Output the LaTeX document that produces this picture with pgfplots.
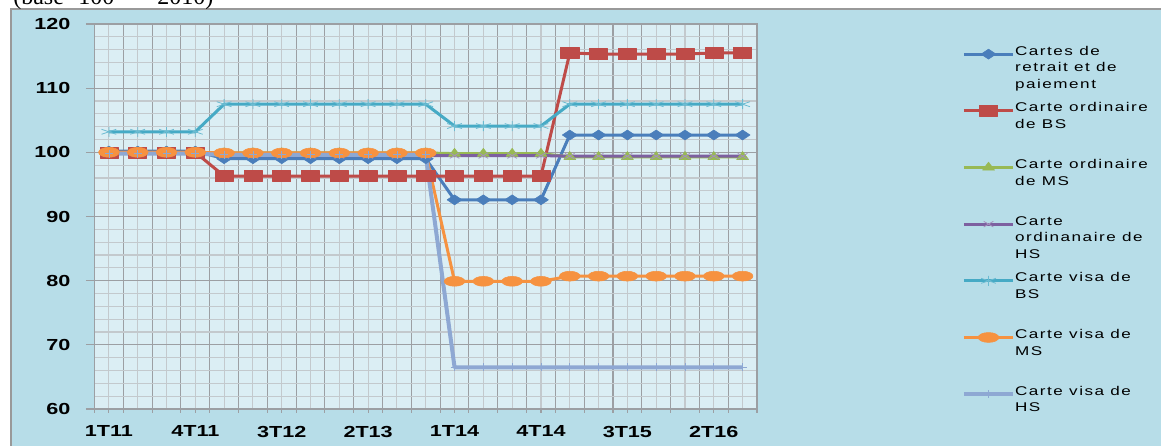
\documentclass[border=0pt]{standalone}
\usepackage{pgfplots}
\usepackage{pgfplotstable}
\pgfplotsset{compat=1.18}
\usepackage{fontspec}
\setmainfont{Liberation Sans}
\newfontfamily\tickfont[FakeStretch=1.35]{Liberation Sans Bold}
\newfontfamily\legfont[FakeStretch=1.35,LetterSpace=12]{Liberation Sans}
\newfontfamily\titlefont{Liberation Serif}

\definecolor{chartbg}{HTML}{B7DDE8}
\definecolor{plotbg}{HTML}{DBEEF4}
\definecolor{gmaj}{HTML}{9C9FA3}
\definecolor{gmin}{HTML}{C3C9CD}
\definecolor{sblue}{HTML}{4A7EBB}
\definecolor{sred}{HTML}{BE4B48}
\definecolor{sgreen}{HTML}{98B954}
\definecolor{spurple}{HTML}{7D60A0}
\definecolor{steal}{HTML}{46AAC5}
\definecolor{sorange}{HTML}{F69240}
\definecolor{slav}{HTML}{8EA8D3}

% quarters 1T11 ... 3T16 as 0..22
\pgfplotstableread{
q  ret   obs   oms   ohs   vbs   vms   vhs
0  100.2 100.0 100.0 100.0 103.2 100.0 99.8
1  100.2 100.0 100.0 100.0 103.2 100.0 99.8
2  100.2 100.0 100.0 100.0 103.2 100.0 99.8
3  100.2 100.0 100.0 100.0 103.2 100.0 99.8
4  99.0  96.3  99.9  99.5  107.5 99.9  99.6
5  99.0  96.3  99.9  99.5  107.5 99.9  99.6
6  99.0  96.3  99.9  99.5  107.5 99.9  99.6
7  99.0  96.3  99.9  99.5  107.5 99.9  99.6
8  99.0  96.3  99.9  99.5  107.5 99.9  99.6
9  99.0  96.3  99.9  99.5  107.5 99.9  99.6
10 99.0  96.3  99.9  99.5  107.5 99.9  99.6
11 99.0  96.3  99.9  99.5  107.5 99.9  99.6
12 92.6  96.3  99.8  99.5  104.1 79.9  66.5
13 92.6  96.3  99.8  99.5  104.1 79.9  66.5
14 92.6  96.3  99.8  99.5  104.1 79.9  66.5
15 92.6  96.3  99.8  99.5  104.1 79.9  66.5
16 102.7 115.5 99.3  99.4  107.5 80.7  66.5
17 102.7 115.3 99.3  99.4  107.5 80.7  66.5
18 102.7 115.3 99.3  99.4  107.5 80.7  66.5
19 102.7 115.3 99.3  99.4  107.5 80.7  66.5
20 102.7 115.3 99.3  99.4  107.5 80.7  66.5
21 102.7 115.5 99.3  99.4  107.5 80.7  66.5
22 102.7 115.5 99.3  99.4  107.5 80.7  66.5
}\data

\newcommand{\legtxt}[1]{\raisebox{0pt}[22pt][20.5pt]{\parbox[t]{112pt}{\legfont\fontsize{9.5pt}{12.5pt}\selectfont #1}}}

\begin{document}
\begin{tikzpicture}
\useasboundingbox (0,0) rectangle (870.75pt,334.5pt);
\clip (0,0) rectangle (870.75pt,334.5pt);
\fill[white] (0,0) rectangle (870.75pt,334.5pt);
\filldraw[fill=chartbg, draw=gray!80, line width=1pt] (8.25pt,-10pt) rectangle (890pt,327.75pt);
\begin{scope}[every node/.style={anchor=base west, inner sep=0pt, font=\titlefont\fontsize{18pt}{20pt}\selectfont}]
\node at (9.75pt,331pt) {(base};
\node at (58.5pt,331pt) {100};
\node at (97.5pt,331pt) {=};
\node at (117.75pt,331pt) {2010)};
\end{scope}
\begin{axis}[
    at={(70.875pt,27.75pt)}, anchor=south west,
    scale only axis, width=496.875pt, height=288.75pt,
    xmin=-0.5, xmax=22.5, ymin=60, ymax=120,
    axis background/.style={fill=plotbg},
    axis line style={gmaj, line width=0.8pt},
    xtick={-0.5,0.5,...,22.5}, xticklabels={},
    minor xtick={0,...,22},
    ytick={60,70,...,120}, minor y tick num=4,
    grid=both,
    major grid style={gmaj, line width=0.8pt},
    minor grid style={gmin, line width=0.8pt},
    tick align=outside, xtick pos=bottom, ytick pos=left,
    major tick length=6.4pt, minor tick length=0pt,
    tick style={gmaj, line width=0.8pt},
    xtick style={/pgfplots/major tick length=3pt},
    extra x ticks={0,3,...,21},
    extra x tick labels={1T11,4T11,3T12,2T13,1T14,4T14,3T15,2T16},
    extra x tick style={grid=none, /pgfplots/major tick length=0pt,
        xticklabel style={yshift=-12.5pt}},
    /pgf/number format/assume math mode=true,
    ticklabel style={font=\tickfont\fontsize{12pt}{13pt}\selectfont, inner sep=0pt},
    yticklabel style={anchor=east, xshift=-11.5pt},
    legend style={at={(axis description cs:1.309,0.996)}, anchor=north west,
        draw=none, fill=none, inner sep=0pt, row sep=0pt,
        nodes={inner sep=0pt, text depth=20.5pt},
        /tikz/every even column/.append style={column sep=3pt}},
    legend cell align=left,
    legend image code/.code={\draw[mark repeat=2,mark phase=2] plot coordinates {(0pt,0pt) (18.4pt,0pt) (36.8pt,0pt)};},
    every axis plot/.append style={line width=2.25pt, line join=round},
]
\addplot[sblue, mark=diamond*, mark size=3.75pt, mark options={xscale=2, line width=0.4pt}] table[x=q,y=ret]{\data};
\addplot[sred, mark=square*, mark size=4.1pt, mark options={xscale=1.65, line width=0.4pt}] table[x=q,y=obs]{\data};
\addplot[sgreen, mark=triangle*, mark size=4pt, mark options={xscale=1.3, line width=0.4pt}] table[x=q,y=oms]{\data};
\addplot[spurple, mark=x, mark size=3pt, mark options={xscale=1.7, line width=0.6pt, draw=spurple!70}] table[x=q,y=ohs]{\data};
\addplot[steal, mark=asterisk, mark size=3.75pt, mark options={xscale=1.7, line width=0.6pt, draw=steal!80}] table[x=q,y=vbs]{\data};
\addplot[sorange, mark=*, mark size=3.7pt, mark options={xscale=2.1, line width=0.4pt}] table[x=q,y=vms]{\data};
\addplot[slav, line width=3pt, mark=+, mark size=3pt, mark options={line width=0.6pt}] table[x=q,y=vhs]{\data};
\legend{\legtxt{Cartes de\\retrait et de\\paiement},
        \legtxt{Carte ordinaire\\de BS},
        \legtxt{Carte ordinaire\\de MS},
        \legtxt{Carte\\ordinanaire de\\HS},
        \legtxt{Carte visa de\\BS},
        \legtxt{Carte visa de\\MS},
        \legtxt{Carte visa de\\HS}}
\end{axis}
\end{tikzpicture}
\end{document}
